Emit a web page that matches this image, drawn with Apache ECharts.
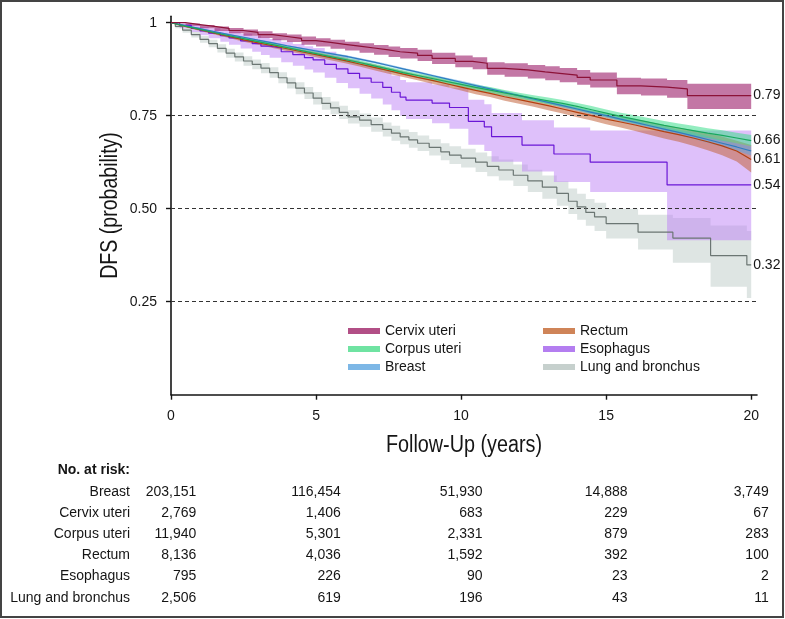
<!DOCTYPE html>
<html><head><meta charset="utf-8">
<script src="https://cdn.jsdelivr.net/npm/echarts@6/dist/echarts.min.js"></script>
<style>html,body{margin:0;padding:0;background:#fff}#c{width:785px;height:619px}</style>
</head><body><div id="c"></div><script>
// ---------- DATA ----------
const xTicks = [0, 5, 10, 15, 20];
const yTicks = [0.25, 0.5, 0.75, 1];
const refLines = [0.25, 0.5, 0.75];
const xTitle = 'Follow-Up (years)';
const yTitle = 'DFS (probability)';

// [time (years), survival, lower CI, upper CI]
const cervix = [
[0,1,1,1],[0.5,0.995,0.992,0.998],[1,0.99,0.985,0.994],[1.5,0.985,0.978,0.99],[2,0.979,0.972,0.986],
[2.5,0.974,0.965,0.982],[3,0.968,0.959,0.977],[3.5,0.963,0.953,0.972],[4,0.958,0.948,0.968],[4.5,0.952,0.941,0.963],
[5,0.947,0.936,0.958],[5.5,0.942,0.930,0.954],[6,0.937,0.925,0.949],[6.5,0.932,0.919,0.945],[7,0.927,0.914,0.940],
[7.5,0.922,0.908,0.936],[7.9,0.918,0.904,0.932],[8.5,0.912,0.897,0.927],[9,0.904,0.889,0.919],[9.8,0.896,0.880,0.912],
[10.4,0.891,0.875,0.907],[10.9,0.877,0.860,0.894],[11.5,0.873,0.855,0.891],[12.3,0.868,0.850,0.886],[12.9,0.864,0.845,0.883],
[13.4,0.859,0.840,0.878],[14,0.853,0.833,0.873],[14.45,0.846,0.826,0.866],[15.37,0.83,0.808,0.852],[16.2,0.827,0.804,0.85],
[17.1,0.822,0.798,0.846],[17.8,0.804,0.768,0.836],[20,0.804,0.768,0.836]];

const corpus = [
[0,1,1,1],[0.5,0.991,0.989,0.993],[1,0.982,0.979,0.985],[1.5,0.973,0.970,0.976],[2,0.965,0.961,0.969],
[2.5,0.957,0.953,0.961],[3,0.949,0.945,0.953],[3.5,0.941,0.936,0.946],[4,0.933,0.928,0.938],[4.5,0.925,0.920,0.930],
[5,0.917,0.912,0.922],[5.5,0.909,0.904,0.914],[6,0.901,0.895,0.907],[6.5,0.893,0.887,0.899],[7,0.884,0.878,0.890],
[7.5,0.875,0.869,0.881],[8,0.866,0.860,0.872],[8.5,0.858,0.852,0.864],[9,0.850,0.843,0.857],[9.5,0.842,0.835,0.849],
[10,0.834,0.827,0.841],[10.5,0.826,0.819,0.833],[11,0.819,0.811,0.827],[11.5,0.811,0.803,0.819],[12,0.804,0.796,0.812],
[12.5,0.797,0.789,0.805],[13,0.790,0.781,0.799],[13.5,0.783,0.774,0.792],[14,0.775,0.766,0.784],[14.5,0.766,0.756,0.776],
[15,0.757,0.747,0.767],[15.5,0.748,0.738,0.758],[16,0.740,0.729,0.751],[16.5,0.732,0.721,0.743],[17,0.724,0.712,0.736],
[17.5,0.717,0.705,0.729],[18,0.710,0.697,0.723],[18.5,0.703,0.690,0.716],[19,0.697,0.683,0.711],[19.5,0.690,0.676,0.704],
[20,0.683,0.668,0.698]];

const breast = [
[0,1,1,1],[0.5,0.992,0.991,0.993],[1,0.984,0.983,0.985],[1.5,0.976,0.975,0.977],[2,0.968,0.966,0.970],
[2.5,0.961,0.959,0.963],[3,0.953,0.951,0.955],[3.5,0.946,0.944,0.948],[4,0.938,0.936,0.940],[4.5,0.931,0.929,0.933],
[5,0.924,0.921,0.927],[5.5,0.917,0.914,0.920],[6,0.910,0.907,0.913],[6.5,0.902,0.899,0.905],[7,0.894,0.891,0.897],
[7.5,0.885,0.882,0.888],[8,0.876,0.873,0.879],[8.5,0.867,0.864,0.870],[9,0.858,0.855,0.861],[9.5,0.849,0.846,0.852],
[10,0.840,0.836,0.844],[10.5,0.831,0.827,0.835],[11,0.822,0.818,0.826],[11.5,0.813,0.809,0.817],[12,0.804,0.800,0.808],
[12.5,0.795,0.791,0.799],[13,0.786,0.782,0.790],[13.5,0.777,0.772,0.782],[14,0.768,0.763,0.773],[14.5,0.759,0.754,0.764],
[15,0.750,0.745,0.755],[15.5,0.741,0.735,0.747],[16,0.732,0.726,0.738],[16.5,0.723,0.717,0.729],[17,0.714,0.707,0.721],
[17.5,0.705,0.698,0.712],[18,0.696,0.688,0.704],[18.5,0.686,0.677,0.695],[19,0.676,0.667,0.685],[19.5,0.666,0.656,0.676],
[20,0.655,0.643,0.667]];

const rectum = [
[0,1,1,1],[0.5,0.990,0.988,0.992],[1,0.981,0.978,0.984],[1.5,0.972,0.968,0.976],[2,0.963,0.959,0.967],
[2.5,0.954,0.949,0.959],[3,0.946,0.941,0.951],[3.5,0.938,0.932,0.944],[4,0.930,0.924,0.936],[4.5,0.922,0.916,0.928],
[5,0.914,0.907,0.921],[5.5,0.906,0.899,0.913],[6,0.898,0.891,0.905],[6.5,0.889,0.882,0.896],[7,0.880,0.872,0.888],
[7.5,0.871,0.863,0.879],[8,0.862,0.854,0.870],[8.5,0.853,0.845,0.861],[9,0.845,0.836,0.854],[9.5,0.836,0.827,0.845],
[10,0.827,0.818,0.836],[10.5,0.818,0.808,0.828],[11,0.810,0.800,0.820],[11.5,0.801,0.790,0.812],[12,0.793,0.782,0.804],
[12.5,0.785,0.774,0.796],[13,0.777,0.765,0.789],[13.5,0.768,0.756,0.780],[14,0.759,0.746,0.772],[14.5,0.750,0.737,0.763],
[15,0.741,0.727,0.755],[15.5,0.733,0.718,0.748],[16,0.725,0.709,0.741],[16.5,0.716,0.699,0.733],[17,0.707,0.689,0.725],
[17.5,0.699,0.680,0.718],[18,0.690,0.669,0.711],[18.5,0.680,0.657,0.703],[19,0.669,0.644,0.694],[19.5,0.655,0.627,0.683],
[20,0.632,0.597,0.671]];

const esophagus = [
[0,1,1,1],[0.3,0.993,0.985,0.998],[0.7,0.985,0.975,0.994],[1.0,0.978,0.966,0.989],[1.3,0.972,0.958,0.985],
[1.7,0.965,0.949,0.98],[2.0,0.959,0.941,0.976],[2.4,0.951,0.931,0.97],[2.8,0.944,0.922,0.965],[3.1,0.937,0.913,0.96],
[3.4,0.932,0.906,0.956],[3.8,0.922,0.894,0.949],[4.2,0.914,0.884,0.943],[4.6,0.906,0.874,0.937],[4.9,0.900,0.866,0.932],
[5.3,0.888,0.852,0.922],[5.7,0.876,0.838,0.912],[6.1,0.864,0.824,0.902],[6.5,0.851,0.809,0.891],[6.9,0.840,0.796,0.882],
[7.3,0.826,0.780,0.870],[7.6,0.813,0.765,0.858],[7.9,0.800,0.750,0.846],[8.1,0.792,0.741,0.840],[9.0,0.784,0.730,0.834],
[9.6,0.772,0.715,0.825],[10.25,0.735,0.672,0.793],[10.8,0.720,0.655,0.781],[11.05,0.694,0.626,0.757],[12.1,0.671,0.600,0.738],
[13.2,0.647,0.572,0.718],[14.45,0.625,0.545,0.71],[17.1,0.564,0.415,0.71],[20,0.564,0.415,0.71]];

const lung = [
[0,1,1,1],[0.15,0.99,0.985,0.995],[0.4,0.98,0.973,0.987],[0.7,0.968,0.96,0.976],[1.0,0.955,0.946,0.964],
[1.3,0.944,0.934,0.954],[1.6,0.931,0.92,0.942],[1.9,0.918,0.906,0.93],[2.2,0.908,0.896,0.92],[2.5,0.897,0.884,0.91],
[2.8,0.888,0.875,0.901],[3.1,0.878,0.864,0.892],[3.4,0.866,0.852,0.88],[3.7,0.852,0.837,0.867],[4.0,0.838,0.823,0.853],
[4.3,0.824,0.808,0.84],[4.6,0.811,0.795,0.827],[4.9,0.797,0.78,0.814],[5.2,0.783,0.766,0.8],[5.5,0.771,0.754,0.788],
[5.8,0.759,0.741,0.777],[6.1,0.747,0.729,0.765],[6.5,0.738,0.72,0.756],[6.9,0.726,0.707,0.745],[7.3,0.713,0.694,0.732],
[7.6,0.703,0.683,0.723],[7.9,0.693,0.673,0.713],[8.2,0.685,0.664,0.706],[8.5,0.676,0.655,0.697],[8.9,0.665,0.643,0.687],
[9.3,0.653,0.63,0.676],[9.6,0.644,0.62,0.668],[10.0,0.636,0.611,0.661],[10.5,0.625,0.599,0.651],[10.9,0.614,0.587,0.641],
[11.3,0.604,0.576,0.632],[11.8,0.59,0.561,0.619],[12.3,0.575,0.545,0.605],[12.8,0.558,0.527,0.589],[13.3,0.541,0.508,0.574],
[13.7,0.52,0.486,0.554],[14.0,0.505,0.47,0.54],[14.3,0.49,0.454,0.526],[14.6,0.478,0.44,0.516],[15.0,0.46,0.42,0.5],
[16.1,0.437,0.39,0.484],[17.3,0.421,0.355,0.475],[18.6,0.374,0.29,0.455],[19.85,0.349,0.26,0.44],[20,0.349,0.26,0.44]];

const seriesNames = ['Cervix uteri', 'Corpus uteri', 'Breast', 'Rectum', 'Esophagus', 'Lung and bronchus'];
const seriesData = [cervix, corpus, breast, rectum, esophagus, lung];
const endLabels = ['0.79', '0.66', '', '0.61', '0.54', '0.32'];

// Number at risk table
const riskTimes = [0, 5, 10, 15, 20];
const riskNames = ['Breast', 'Cervix uteri', 'Corpus uteri', 'Rectum', 'Esophagus', 'Lung and bronchus'];
const riskBreast = [203151, 116454, 51930, 14888, 3749];
const riskCervix = [2769, 1406, 683, 229, 67];
const riskCorpus = [11940, 5301, 2331, 879, 283];
const riskRectum = [8136, 4036, 1592, 392, 100];
const riskEsophagus = [795, 226, 90, 23, 2];
const riskLung = [2506, 619, 196, 43, 11];
const riskRows = [riskBreast, riskCervix, riskCorpus, riskRectum, riskEsophagus, riskLung];

// ---------- STYLE ----------
const lineColors = ['#8c1238', '#19a85e', '#2f7cc0', '#b3400f', '#6a16d6', '#6b7673'];
const bandColors = ['rgba(158,36,110,0.62)', 'rgba(60,222,140,0.55)', 'rgba(90,165,228,0.55)',
                    'rgba(195,100,60,0.55)', 'rgba(190,130,245,0.5)', 'rgba(195,208,204,0.55)'];
const legendColors = ['#b24f86', '#6fe3a2', '#7db7e6', '#cf8458', '#b47ef0', '#c6d0cd'];
const stepped = [true, false, false, false, true, true];
const FONT = 'Liberation Sans';
const INK = '#151515';

function bandSeries(name, pts, color, z, step) {
  return {
    type: 'custom', name: name, z: z, silent: true, clip: true,
    data: pts.map(p => [p[0], p[2], p[3]]),
    encode: { x: 0, y: [1, 2] },
    renderItem: function (params, api) {
      if (params.dataIndex !== 0) return null;
      const up = [], lo = [];
      for (let i = 0; i < pts.length; i++) {
        const t = pts[i][0];
        up.push(api.coord([t, pts[i][3]]));
        lo.push(api.coord([t, pts[i][2]]));
        if (step && i < pts.length - 1) {
          const tn = pts[i + 1][0];
          up.push(api.coord([tn, pts[i][3]]));
          lo.push(api.coord([tn, pts[i][2]]));
        }
      }
      return { type: 'polygon', shape: { points: up.concat(lo.reverse()) }, style: { fill: color } };
    }
  };
}

const series = [];
const drawOrder = [5, 4, 3, 2, 1, 0];
drawOrder.forEach((k, i) => series.push(bandSeries(seriesNames[k], seriesData[k], bandColors[k], 1 + i * 0.01, stepped[k])));
drawOrder.forEach(k => {
  series.push({
    type: 'line', name: seriesNames[k], step: stepped[k] ? 'end' : false, symbol: 'none', z: 5,
    data: seriesData[k].map(p => [p[0], p[1]]),
    lineStyle: { color: lineColors[k], width: 1.2 },
    itemStyle: { color: lineColors[k] },
    emphasis: { disabled: true },
    endLabel: {
      show: endLabels[k] !== '', formatter: endLabels[k], color: INK,
      fontFamily: FONT, fontSize: 14, distance: 2
    }
  });
});
series.push({
  type: 'line', name: '_ref', data: [], z: 6,
  markLine: {
    silent: true, symbol: ['none', 'none'], label: { show: false },
    lineStyle: { type: [4, 3], color: '#333', width: 1.2 },
    data: refLines.map(v => ({ yAxis: v }))
  }
});

function legendData(idx) {
  return idx.map(k => ({ name: seriesNames[k], itemStyle: { color: legendColors[k], borderWidth: 0 } }));
}
const legendBase = {
  orient: 'vertical', icon: 'rect', itemWidth: 32, itemHeight: 6, itemGap: 2, selectedMode: false,
  padding: 0, textStyle: { fontFamily: FONT, fontSize: 14, color: INK, lineHeight: 16 }
};

const chart = echarts.init(document.getElementById('c'), null, { renderer: 'canvas' });
chart.setOption({
  animation: false,
  backgroundColor: '#fff',
  grid: { left: 171, right: 28, top: 16.2, bottom: 224.3, containLabel: false },
  legend: [
    Object.assign({ left: 348, top: 323, data: legendData([0, 1, 2]) }, legendBase),
    Object.assign({ left: 543, top: 323, data: legendData([3, 4, 5]) }, legendBase)
  ],
  xAxis: {
    type: 'value', min: 0, max: 20.2,
    axisLine: { show: true, onZero: false, lineStyle: { color: INK, width: 1.6 } },
    axisTick: { show: true, customValues: xTicks, length: 5, lineStyle: { color: INK, width: 1.4 } },
    axisLabel: { customValues: xTicks, fontFamily: FONT, fontSize: 14, color: INK, margin: 14 },
    splitLine: { show: false }
  },
  yAxis: {
    type: 'value', min: 0, max: 1.0175,
    axisLine: { show: true, onZero: false, lineStyle: { color: INK, width: 1.6 } },
    axisTick: { show: true, customValues: yTicks, length: 5, lineStyle: { color: INK, width: 1.4 } },
    axisLabel: {
      customValues: yTicks, fontFamily: FONT, fontSize: 14, color: INK, margin: 14,
      formatter: v => (v === 1 ? '1' : v.toFixed(2))
    },
    splitLine: { show: false }
  },
  series: series
});

// ---------- titles, table, frame ----------
const fmt = n => n.toLocaleString('en-US');
const ctx = document.createElement('canvas').getContext('2d');
ctx.font = '14px "' + FONT + '"';
const x0 = chart.convertToPixel({ xAxisIndex: 0 }, 0);
const x1 = chart.convertToPixel({ xAxisIndex: 0 }, 20.2);
const yTop = chart.convertToPixel({ yAxisIndex: 0 }, 1.0175);
const yBot = chart.convertToPixel({ yAxisIndex: 0 }, 0);
const gfx = [{
  type: 'rect', shape: { x: 1, y: 1, width: 782, height: 616 }, silent: true,
  style: { fill: 'none', stroke: '#444', lineWidth: 2 }
}, {
  type: 'text', x: (x0 + x1) / 2, y: yBot + 50.5, scaleX: 0.86, silent: true,
  style: { text: xTitle, fill: INK, font: '23px "' + FONT + '"', align: 'center', verticalAlign: 'middle' }
}, {
  type: 'text', x: x0 - 60, y: (yTop + yBot) / 2, rotation: Math.PI / 2, scaleX: 0.85, silent: true,
  style: { text: yTitle, fill: INK, font: '23px "' + FONT + '"', align: 'center', verticalAlign: 'middle' }
}];
const headerY = 470.5, rowStep = 21.2, labelRight = 130;
gfx.push({ type: 'text', x: labelRight, y: headerY, silent: true,
  style: { text: 'No. at risk:', fill: INK, font: 'bold 14px "' + FONT + '"', align: 'right', verticalAlign: 'middle' } });
riskNames.forEach((nm, i) => {
  gfx.push({ type: 'text', x: labelRight, y: headerY + (i + 1) * rowStep, silent: true,
    style: { text: nm, fill: INK, font: '14px "' + FONT + '"', align: 'right', verticalAlign: 'middle' } });
});
riskTimes.forEach((t, j) => {
  const px = chart.convertToPixel({ xAxisIndex: 0 }, t);
  const w = Math.max.apply(null, riskRows.map(r => ctx.measureText(fmt(r[j])).width));
  const right = px + w / 2;
  riskRows.forEach((r, i) => {
    gfx.push({ type: 'text', x: right, y: headerY + (i + 1) * rowStep, silent: true,
      style: { text: fmt(r[j]), fill: INK, font: '14px "' + FONT + '"', align: 'right', verticalAlign: 'middle' } });
  });
});
chart.setOption({ graphic: gfx });
</script></body></html>
